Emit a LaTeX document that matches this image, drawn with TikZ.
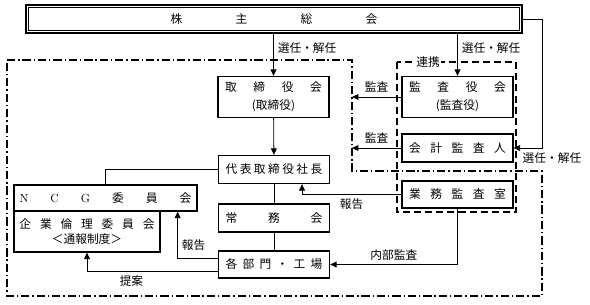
\documentclass[tikz,border=0pt]{standalone}
\usepackage{fontspec}
\newfontfamily\jp{Noto Sans CJK JP}
\usetikzlibrary{arrows.meta,calc}

\begin{document}
\begin{tikzpicture}[x=0.03cm,y=-0.03cm,
		font=\jp\fontsize{10pt}{12pt}\selectfont,
		box/.style={draw,line width=1.1pt,minimum width=3.33cm,minimum height=0.84cm,inner sep=0pt,align=center},
		arr/.style={line width=0.7pt,-{Triangle[length=5.5pt,width=5pt]}},
		conn/.style={line width=0.7pt}]
	\useasboundingbox (0,0) rectangle (590,304);

	% frames
	\draw[line width=1pt,dash pattern=on 7pt off 2.5pt on 1.2pt off 2.5pt] (7,60) -- (352,60) -- (352,171) -- (542,171) -- (542,296) -- (7,296) -- cycle;
	\draw[line width=1.2pt,dash pattern=on 6pt off 3.5pt] (397,62) rectangle (516,212);
	\node[fill=white,inner sep=1pt] (link) at (428,62) {連携};
	\coordinate (wall) at (352,60);
	\coordinate (rim) at (542,171);

	% shareholders
	\node[draw,line width=1.3pt,minimum width=14.88cm,minimum height=0.84cm,inner sep=0pt] (sh) at (274,19) {\makebox[6.2cm][s]{株\hfill 主\hfill 総\hfill 会}};
	\draw[line width=0.5pt] ([shift={(3,3)}]sh.north west) rectangle ([shift={(-3,-3)}]sh.south east);

	% boxes
	\node[box,minimum height=1.23cm] (board) at (273.5,97) {\makebox[2.9cm][s]{取\hfill 締\hfill 役\hfill 会}\\[3pt](取締役)};
	\node[box,minimum height=1.23cm] (audit) at (457.5,97) {\makebox[2.9cm][s]{監\hfill 査\hfill 役\hfill 会}\\[3pt](監査役)};
	\node[box] (accountant) at (457.5,148) {\makebox[2.9cm][s]{会\hfill 計\hfill 監\hfill 査\hfill 人}};
	\node[box] (ceo) at (274,169.5) {\makebox[2.9cm][s]{代\hfill 表\hfill 取\hfill 締\hfill 役\hfill 社\hfill 長}};
	\node[box] (exec) at (274,218) {\makebox[2.9cm][s]{常\hfill 務\hfill 会}};
	\node[box,minimum height=0.81cm] (dept) at (274,264.5) {\makebox[2.9cm][s]{各\hfill 部\hfill 門\hfill ・\hfill 工\hfill 場}};
	\node[box,minimum height=0.81cm] (internal) at (457.5,194.5) {\makebox[2.9cm][s]{業\hfill 務\hfill 監\hfill 査\hfill 室}};
	\node[box,minimum width=5.49cm,minimum height=0.78cm] (ncg) at (105.5,198) {\makebox[5.15cm][s]{\rmfamily N\hfill C\hfill G\hfill\jp 委\hfill 員\hfill 会}};
	\node[box,minimum width=4.38cm,minimum height=1.23cm] (ethics) at (87,231.5) {\makebox[4.05cm][s]{企\hfill 業\hfill 倫\hfill 理\hfill 委\hfill 員\hfill 会}\\[1pt]＜通報制度＞};

	% connectors
	\draw[arr] (sh.south -| board.north) -- (board.north) node[pos=0.35,right] {選任・解任};
	\draw[arr] (board) -- (ceo);
	\draw[conn] (ceo) -- (exec);
	\draw[conn] (exec) -- (dept);
	\draw[arr] (sh.south -| audit.north) -- (audit.north) node[pos=0.35,right] {選任・解任};
	\draw[arr] (sh.east) -- (sh.east -| rim) |- (accountant.east) node[pos=0.5,below,xshift=0.3cm] {選任・解任};
	\draw[arr] (audit.west) -- (audit.west -| wall) node[midway,above] {監査};
	\draw[arr] (accountant.west) -- (accountant.west -| wall) node[midway,above] {監査};
	\draw[arr] (internal.west) -| ($(ceo.south)+(28,0)$) node[pos=0.25,below] {報告};
	\draw[arr] (internal.south) |- (dept.east) node[pos=0.75,above] {内部監査};
	\draw[conn] (ceo.west) -| (ncg.north);
	\draw[arr] ($(dept.west)+(0,-6.5)$) -| ($(ncg.south east)+(-20,0)$) node[pos=0.64,right] {報告};
	\draw[arr] ($(dept.west)+(0,6.5)$) -| (ethics.south) node[pos=0.33,below] {提案};
\end{tikzpicture}
\end{document}
